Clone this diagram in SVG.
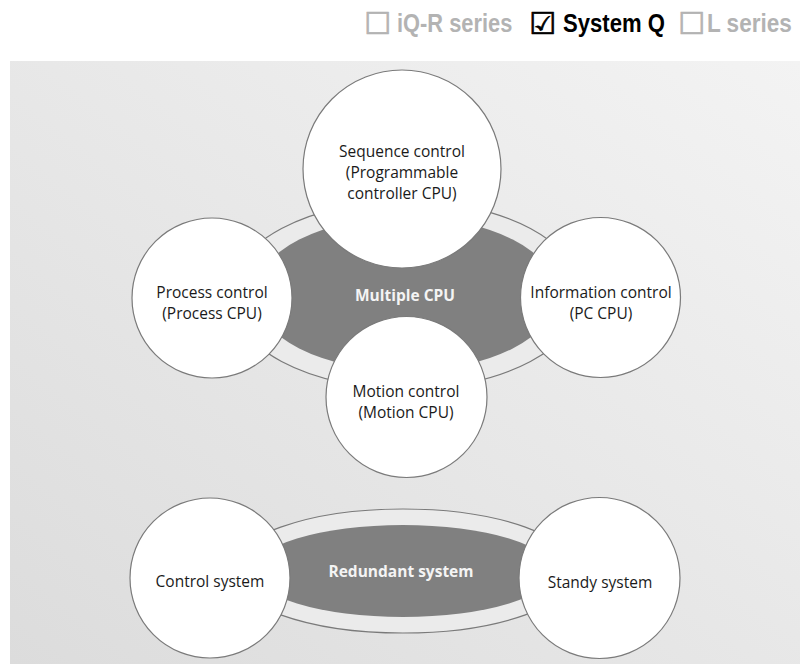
<svg xmlns="http://www.w3.org/2000/svg" width="802" height="664" viewBox="0 0 802 664">
  <defs>
    <linearGradient id="bg" x1="1" y1="0" x2="0" y2="1">
      <stop offset="0" stop-color="#f3f3f3"/>
      <stop offset="1" stop-color="#dcdcdc"/>
    </linearGradient>
    <style>
      .hdr { font-family: "Liberation Sans", Arial, sans-serif; font-weight: bold; font-size: 26px; }
      .box { font-family: "DejaVu Sans", sans-serif; font-size: 30px; }
      .off { fill: #b3b3b3; }
      .on { fill: #000000; }
      .ring { fill: #ebebeb; stroke: #7a7a7a; stroke-width: 1.2; }
      .hub { fill: #808080; stroke: none; }
      .node { fill: #ffffff; stroke: #7a7a7a; stroke-width: 1.2; }
      .lbl { font-family: "Open Sans", "Liberation Sans", sans-serif; font-size: 15.5px; fill: #1a1a1a; text-anchor: middle; }
      .hublbl { font-family: "Open Sans", "Liberation Sans", sans-serif; font-size: 15.5px; font-weight: bold; fill: #f4f4f4; text-anchor: middle; }
    </style>
  </defs>

  <rect x="0" y="0" width="802" height="664" fill="#ffffff"/>

  <g id="header">
    <text class="box off" x="364" y="34" stroke="#b3b3b3" stroke-width="0.7">☐</text>
    <text class="hdr off" transform="translate(397,32) scale(0.84,1)">iQ-R series</text>
    <text class="box on" x="529" y="34" stroke="#000000" stroke-width="0.7">☑</text>
    <text class="hdr on" transform="translate(563,32) scale(0.85,1)">System Q</text>
    <text class="box off" x="678" y="34" stroke="#b3b3b3" stroke-width="0.7">☐</text>
    <text class="hdr off" transform="translate(707,32) scale(0.867,1)">L series</text>
  </g>

  <rect id="panel" x="10" y="61" width="790" height="603" fill="url(#bg)"/>

  <g id="multiple-cpu">
    <ellipse class="ring" cx="406" cy="295" rx="176" ry="94"/>
    <ellipse class="hub" cx="406" cy="294" rx="151" ry="77"/>
    <text class="hublbl" x="405" y="301">Multiple CPU</text>
  </g>

  <g id="redundant-system">
    <ellipse class="ring" cx="403" cy="571" rx="173" ry="62"/>
    <ellipse class="hub" cx="403" cy="571" rx="150" ry="46"/>
    <text class="hublbl" x="401" y="577">Redundant system</text>
  </g>

  <g id="connectors"></g>

  <g id="sequence-control">
    <circle class="node" cx="402" cy="169" r="99"/>
    <text class="lbl" x="402" y="157">Sequence control</text>
    <text class="lbl" x="402" y="178">(Programmable</text>
    <text class="lbl" x="402" y="199">controller CPU)</text>
  </g>

  <g id="process-control">
    <circle class="node" cx="212" cy="298" r="80"/>
    <text class="lbl" x="212" y="298">Process control</text>
    <text class="lbl" x="212" y="319">(Process CPU)</text>
  </g>

  <g id="information-control">
    <circle class="node" cx="600.5" cy="297.5" r="80"/>
    <text class="lbl" x="601" y="298">Information control</text>
    <text class="lbl" x="601" y="319">(PC CPU)</text>
  </g>

  <g id="motion-control">
    <circle class="node" cx="406.5" cy="397" r="80.5"/>
    <text class="lbl" x="406" y="397">Motion control</text>
    <text class="lbl" x="406" y="418">(Motion CPU)</text>
  </g>

  <g id="control-system">
    <circle class="node" cx="210" cy="578" r="80"/>
    <text class="lbl" x="210" y="587">Control system</text>
  </g>

  <g id="standy-system">
    <circle class="node" cx="599.5" cy="578" r="80.5"/>
    <text class="lbl" x="600" y="588">Standy system</text>
  </g>
</svg>
